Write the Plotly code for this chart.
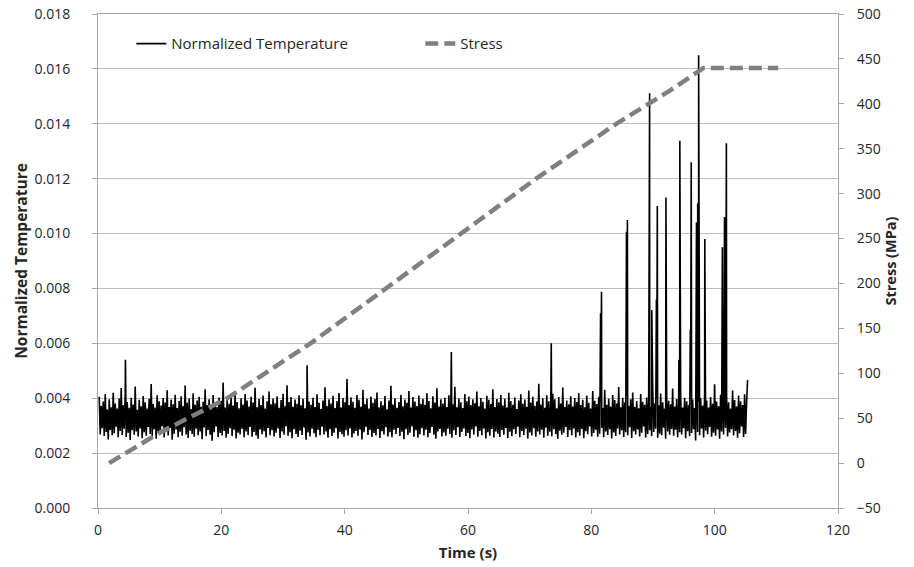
import numpy as np
import plotly.graph_objects as go

# normalized temperature record, units of 1e-5, one sample every temp_step s
temp_start = 0.2
temp_step = 0.162
temp_base = [
    405, 268, 372, 291, 388, 262, 415, 277, 359, 250, 396, 284, 367, 265, 420, 272, 381, 296, 362, 258, 399, 281, 437, 266, 374,
    289, 410, 259, 386, 274, 365, 248, 402, 283, 377, 267, 443, 279, 358, 261, 394, 290, 371, 254, 408, 276, 385, 263, 362, 295,
    398, 270, 452, 261, 379, 287, 366, 252, 411, 275, 389, 266, 373, 298, 401, 257, 384, 280, 429, 264, 368, 292, 395, 249, 378,
    271, 413, 286, 364, 258, 390, 278, 407, 263, 371, 294, 446, 268, 383, 255, 399, 282, 361, 270, 418, 260, 376, 289, 392, 265,
    405, 279, 369, 251, 387, 293, 433, 262, 375, 284, 396, 267, 360, 245, 412, 276, 382, 297, 368, 259, 403, 273, 391, 264, 457,
    281, 366, 256, 394, 270, 380, 291, 409, 262, 373, 285, 421, 253, 386, 274, 363, 268, 400, 288, 377, 258, 415, 279, 392, 266,
    370, 295, 405, 260, 384, 277, 438, 264, 367, 252, 397, 286, 375, 269, 410, 280, 362, 257, 389, 292, 424, 265, 378, 283, 399,
    261, 382, 274, 407, 290, 365, 255, 393, 279, 416, 267, 371, 298, 447, 263, 386, 276, 404, 254, 369, 287, 395, 270, 380, 259,
    411, 282, 374, 266, 398, 293, 363, 249, 427, 275, 388, 261, 376, 289, 402, 272, 368, 258, 414, 284, 383, 265, 361, 296, 392,
    268, 440, 279, 372, 256, 396, 287, 381, 262, 409, 274, 364, 291, 390, 253, 419, 277, 366, 269, 401, 260, 385, 283, 470, 264,
    375, 290, 403, 257, 387, 272, 365, 281, 412, 263, 394, 286, 369, 250, 431, 276, 379, 295, 398, 266, 362, 284, 406, 259, 383,
    273, 397, 264, 421, 288, 367, 255, 389, 280, 374, 268, 408, 294, 360, 261, 392, 276, 445, 258, 377, 285, 400, 270, 365, 292,
    386, 262, 413, 278, 371, 251, 395, 287, 383, 266, 426, 274, 366, 297, 404, 260, 388, 283, 372, 256, 410, 269, 380, 291, 398,
    264, 376, 285, 418, 258, 390, 273, 363, 295, 407, 267, 384, 252, 436, 279, 370, 288, 396, 261, 381, 275, 402, 263, 368, 289,
    411, 270, 393, 256, 378, 283, 442, 266, 367, 294, 399, 259, 385, 277, 364, 290, 415, 262, 389, 273, 406, 254, 375, 286, 396,
    268, 382, 297, 424, 260, 371, 281, 401, 265, 387, 290, 362, 253, 409, 276, 394, 263, 379, 288, 433, 257, 368, 279, 397, 271,
    385, 259, 412, 284, 373, 267, 398, 292, 366, 255, 420, 278, 390, 262, 376, 287, 403, 270, 361, 296, 392, 258, 414, 281, 380,
    266, 395, 289, 369, 253, 428, 275, 384, 264, 405, 291, 372, 260, 388, 279, 453, 268, 377, 285, 400, 256, 365, 293, 411, 263,
    389, 278, 374, 261, 416, 287, 396, 270, 363, 252, 404, 282, 381, 267, 439, 274, 368, 295, 392, 259, 378, 284, 407, 265, 370,
    290, 401, 257, 386, 276, 418, 263, 375, 288, 394, 254, 367, 280, 410, 269, 383, 297, 362, 261, 426, 273, 391, 285, 379, 260,
    405, 271, 388, 292, 364, 258, 431, 279, 376, 266, 398, 287, 370, 253, 412, 275, 393, 262, 381, 290, 441, 268, 367, 283, 402,
    259, 384, 276, 409, 265, 372, 294, 396, 255, 421, 280, 369, 268, 390, 286, 363, 261, 415, 274, 387, 297, 376, 257, 403, 270,
    394, 283, 368, 262, 447, 277, 381, 289, 400, 256, 374, 271, 417, 265, 385, 293, 362, 252, 406, 279, 391, 267, 378, 288, 435,
    263, 370, 285, 397, 258, 383, 276, 412, 268, 366, 291, 402, 254, 389, 280, 375, 262, 424, 273, 395, 287, 364, 246, 408, 277,
    386, 265, 401, 290, 373, 257, 419, 282, 392, 269, 366, 295, 404, 260, 380, 274, 451, 263, 388, 286, 371, 252, 413, 279, 397,
    268, 379, 292, 406, 261, 385, 275, 362, 287, 428, 264, 393, 281, 370, 256, 410, 272, 389, 297, 375, 259, 414, 270, 382, 466,
]

# isolated peaks (s, units of 1e-5)
spike_time = [4.45, 33.9, 57.3, 73.5, 81.5, 81.65, 85.7, 85.85, 89.45, 89.8, 90.55, 90.7,
              92.1, 94.2, 94.35, 96.05, 96.2, 97.05, 97.25, 97.4, 98.4, 101.25, 101.6, 101.9]
spike_val = [540, 520, 568, 600, 710, 788, 1007, 1049, 1511, 721, 760, 1100,
             1131, 540, 1338, 650, 1260, 1040, 1110, 1650, 980, 950, 1060, 1329]

# stress (MPa)
stress_time = [1.8, 10.3, 20.9, 34.4, 46.8, 59.1, 71.1, 84.1, 92.8, 98.2, 110.3]
stress_val = [0, 35, 72, 133, 195, 256, 317, 378, 415, 440, 440]

t_base = temp_start + temp_step * np.arange(len(temp_base))
t_all = np.concatenate([t_base, spike_time])
v_all = np.concatenate([temp_base, spike_val]) * 1e-5
order = np.argsort(t_all, kind="stable")
t_all = t_all[order]
v_all = v_all[order]

FONT = "Open Sans"
GRID = "#bdbdbd"
AXIS = "#a6a6a6"

fig = go.Figure()
fig.add_trace(go.Scatter(
    x=t_all, y=v_all, mode="lines", name="Normalized Temperature",
    line=dict(color="black", width=1.6, simplify=False),
))
fig.add_trace(go.Scatter(
    x=stress_time, y=stress_val, mode="lines", name="Stress", yaxis="y2",
    line=dict(color="#808080", width=4.5, dash="13px,6px"),
))

fig.update_layout(
    width=914, height=567,
    margin=dict(l=98, r=76, t=14, b=59),
    paper_bgcolor="white", plot_bgcolor="white",
    font=dict(family=FONT, size=14, color="#262626"),
    showlegend=True,
    legend=dict(
        orientation="h", x=0.045, y=0.973, xanchor="left", yanchor="top",
        bgcolor="rgba(0,0,0,0)", entrywidth=244, font=dict(size=15),
    ),
    xaxis=dict(
        range=[0, 120], dtick=20, tick0=0, automargin=False,
        showgrid=False, zeroline=False,
        showline=True, linecolor=AXIS, linewidth=1, mirror=True,
        ticks="outside", ticklen=5, tickcolor=AXIS,
        ticklabelstandoff=4,
        title=dict(text="<b>Time (s)</b>", standoff=9, font=dict(size=15)),
    ),
    yaxis=dict(
        range=[0, 0.0180001], dtick=0.002, tick0=0, tickformat=".3f", automargin=False,
        showgrid=True, gridcolor=GRID, gridwidth=1, zeroline=False,
        showline=True, linecolor=AXIS, linewidth=1,
        ticks="outside", ticklen=5, tickcolor=AXIS,
        ticklabelstandoff=19,
        title=dict(text="<b>Normalized Temperature</b>", standoff=3, font=dict(size=15.5)),
    ),
    yaxis2=dict(
        range=[-50, 500.001], dtick=50, tick0=0, automargin=False,
        overlaying="y", side="right",
        showgrid=False, zeroline=False,
        showline=True, linecolor=AXIS, linewidth=1,
        ticks="outside", ticklen=5, tickcolor=AXIS,
        ticklabelstandoff=10,
        title=dict(text="<b>Stress (MPa)</b>", standoff=6, font=dict(size=14.5)),
    ),
)

# drop the default page margin so the figure sits at the window origin
fig.write_html("out.html", config={"displayModeBar": False},
               post_script="document.body.style.margin='0';")
